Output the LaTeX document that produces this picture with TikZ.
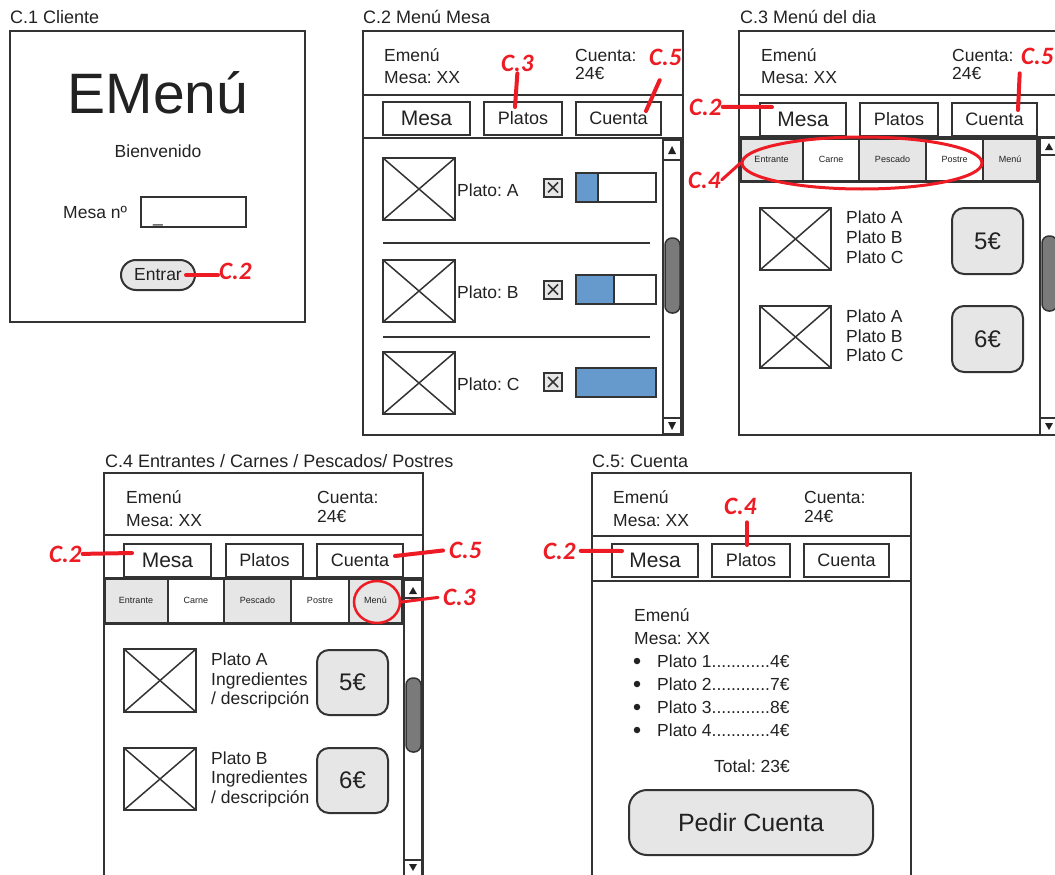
\documentclass[tikz,border=0pt]{standalone}
\usepackage{fontspec}
\setmainfont{Liberation Sans}
\newfontfamily\notefont{Carlito}
\frenchspacing
\usetikzlibrary{positioning,shapes.geometric}
\definecolor{ink}{RGB}{34,34,34}
\definecolor{edge}{RGB}{51,51,51}
\definecolor{btngray}{RGB}{230,230,230}
\definecolor{thumbgray}{RGB}{122,122,122}
\definecolor{barblue}{RGB}{102,153,204}
\definecolor{notered}{RGB}{237,28,36}
\tikzset{
  frame/.style={draw=edge, line width=2pt},
  title/.style={anchor=base west, inner sep=0pt, text=ink, font=\fontsize{18}{20}\selectfont},
  txt/.style={anchor=base west, inner sep=0pt, text=ink, font=\fontsize{17.5}{20}\selectfont},
  navbtn/.style={draw=edge, line width=2pt, fill=white, inner sep=0pt, minimum height=33pt, text=ink, font=\fontsize{18}{20}\selectfont},
  mesabtn/.style={navbtn, font=\fontsize{21}{24}\selectfont},
  imgbox/.style={draw=edge, line width=2pt, minimum width=72pt, minimum height=62pt, inner sep=0pt,
    path picture={\draw[edge, line width=1.5pt] (path picture bounding box.north west) -- (path picture bounding box.south east)
      (path picture bounding box.south west) -- (path picture bounding box.north east);}},
  chk/.style={draw=edge, line width=2pt, fill=btngray, minimum size=18pt, inner sep=0pt,
    path picture={\draw[edge, line width=1.5pt] ([shift={(4pt,4pt)}]path picture bounding box.south west) -- ([shift={(-4pt,-4pt)}]path picture bounding box.north east)
      ([shift={(4pt,-4pt)}]path picture bounding box.north west) -- ([shift={(-4pt,4pt)}]path picture bounding box.south east);}},
  bar/.style={draw=edge, line width=2pt, minimum width=80pt, minimum height=29pt, inner sep=0pt,
    path picture={\fill[barblue] (path picture bounding box.south west) rectangle ([xshift=#1]path picture bounding box.north west);
      \draw[edge, line width=2pt] ([xshift=#1]path picture bounding box.south west) -- ([xshift=#1]path picture bounding box.north west);}},
  tab/.style={draw=edge, line width=1.5pt, minimum height=43pt, inner sep=0pt, text=ink, font=\fontsize{9}{10}\selectfont},
  price/.style={draw=edge, line width=2pt, fill=btngray, rounded corners=12pt, minimum width=71pt, minimum height=66pt, text=ink, font=\fontsize{24}{26}\selectfont},
  thumb/.style={draw=edge, line width=1.5pt, fill=thumbgray, rounded corners=7pt},
  bullet/.style={circle, fill=ink, inner sep=0pt, minimum size=6.5pt},
  note/.style={anchor=base west, inner sep=1pt, text=notered, font=\notefont\bfseries\itshape\fontsize{25}{28}\selectfont},
  noteline/.style={draw=notered, line width=4pt, line cap=round},
  ring/.style={draw=notered, line width=3pt, ellipse, inner sep=0pt},
}
\begin{document}
\begin{tikzpicture}[x=1pt, y=-1pt]
\useasboundingbox (0,0) rectangle (1055,875);
\clip (0,0) rectangle (1055,875);

% C.1
\node[title] (t1) at (10,24) {C.1 Cliente};
\draw[frame] (10,31) rectangle (305,322);
\node[anchor=base, inner sep=0pt, text=ink, font=\fontsize{57}{60}\selectfont] (logo) at (158,113) {EMenú};
\node[txt, anchor=base] (hola) at (158,157) {Bienvenido};
\node[txt] (mesano) at (63,218) {Mesa nº};
\node[draw=edge, line width=2pt, minimum width=105pt, minimum height=30pt] (campo) at (193.5,212) {};
\node[txt] (cursor) at (153,222) {\_};
\node[draw=edge, line width=2pt, fill=btngray, rounded corners=15pt, minimum width=74pt, minimum height=30pt, inner sep=0pt, text=ink, font=\fontsize{17.5}{20}\selectfont] (entrar) at (158,275) {Entrar};
\node[note] (n12) at (218,279) {C.2};
\coordinate (a12) at (186,275);
\draw[noteline] (a12) -- (n12.west |- a12);

% C.2
\node[title] (t2) at (363,24) {C.2 Menú Mesa};
\draw[frame] (363,31) rectangle (683,435);
\draw[frame] (363,95) -- (683,95);
\draw[frame] (363,138) -- (683,138);
\node[txt] (e2) at (384,62) {Emenú};
\node[txt] (x2) at (384,84) {Mesa: XX};
\node[txt] (c2) at (575,62) {Cuenta:};
\node[txt] (p2) at (575,80) {24€};
\node[mesabtn, minimum width=87pt] (mesa2) at (426.5,118.5) {Mesa};
\node[navbtn, minimum width=78pt] (platos2) at (523,118.5) {Platos};
\node[navbtn, minimum width=85pt] (cuenta2) at (618.5,118.5) {Cuenta};
\node[imgbox] (img2a) at (419,189) {};
\node[imgbox] (img2b) at (419,291) {};
\node[imgbox] (img2c) at (419,383) {};
\node[txt] (pl2a) at (457,196) {Plato: A};
\node[txt] (pl2b) at (457,298) {Plato: B};
\node[txt] (pl2c) at (457,390) {Plato: C};
\node[chk] (chk2a) at (553,187.5) {};
\node[chk] (chk2b) at (553,289.5) {};
\node[chk] (chk2c) at (553,382) {};
\node[bar=22pt] (bar2a) at (616,187.5) {};
\node[bar=38pt] (bar2b) at (616,289.5) {};
\node[bar=80pt] (bar2c) at (616,382.5) {};
\draw[frame] (383,243) -- (650,243);
\draw[frame] (383,337) -- (650,337);
\draw[frame] (663,140) rectangle (681,434);
\draw[frame] (663,160) -- (681,160);
\draw[frame] (663,418) -- (681,418);
\fill[ink] (668,154) -- (676,154) -- (672,146) -- cycle;
\fill[ink] (668,422) -- (676,422) -- (672,430) -- cycle;
\draw[thumb] (665,238) rectangle (680,313);
\node[note] (n23) at (500,72) {C.3};
\node[note] (n25) at (648,66) {C.5};
\coordinate (a23) at (515,107);
\coordinate (a25) at (646,111);
\draw[noteline] (a23) -- (n23.south);
\draw[noteline, shorten >=14pt] (a25) -- (n25.south);

% C.3
\node[title] (t3) at (740,24) {C.3 Menú del dia};
\draw[frame] (739,31) rectangle (1059,435);
\draw[frame] (739,95) -- (1059,95);
\draw[frame] (739,137) -- (1059,137);
\node[txt] (e3) at (761,62) {Emenú};
\node[txt] (x3) at (761,84) {Mesa: XX};
\node[txt] (c3) at (952,62) {Cuenta:};
\node[txt] (p3) at (952,80) {24€};
\node[mesabtn, minimum width=86pt] (mesa3) at (803,119) {Mesa};
\node[navbtn, minimum width=78pt] (platos3) at (899,119) {Platos};
\node[navbtn, minimum width=85pt] (cuenta3) at (994.5,119) {Cuenta};
\node[tab, fill=btngray, minimum width=63pt] (ent3) at (771.5,159.5) {Entrante};
\node[tab, minimum width=56pt] (car3) at (831,159.5) {Carne};
\node[tab, fill=btngray, minimum width=67pt] (pes3) at (892.5,159.5) {Pescado};
\node[tab, minimum width=57pt] (pos3) at (954.5,159.5) {Postre};
\node[tab, fill=btngray, minimum width=54pt] (men3) at (1010,159.5) {Menú};
\draw[edge, line width=3pt] (740,138) rectangle (1037,181);
\node[imgbox, minimum width=71pt] (img3a) at (795.5,239) {};
\node[imgbox, minimum width=71pt] (img3b) at (795.5,337) {};
\node[txt] (d3a1) at (846,223) {Plato A};
\node[txt] (d3a2) at (846,243) {Plato B};
\node[txt] (d3a3) at (846,263) {Plato C};
\node[txt] (d3b1) at (846,322) {Plato A};
\node[txt] (d3b2) at (846,342) {Plato B};
\node[txt] (d3b3) at (846,361) {Plato C};
\node[price] (pr3a) at (987.5,241) {5€};
\node[price] (pr3b) at (987.5,339) {6€};
\draw[frame] (1040,138) rectangle (1058,435);
\draw[frame] (1040,155) -- (1058,155);
\draw[frame] (1040,418) -- (1058,418);
\fill[ink] (1045,150) -- (1053,150) -- (1049,143) -- cycle;
\fill[ink] (1045,423) -- (1053,423) -- (1049,430) -- cycle;
\draw[thumb] (1042,236) rectangle (1057,311);
\node[ring, minimum width=240pt, minimum height=52pt] (sel3) at (862,163) {};
\node[note] (n32) at (688,115) {C.2};
\node[note] (n34) at (687,188) {C.4};
\node[note] (n35) at (1020,65) {C.5};
\coordinate (a32) at (772,107);
\coordinate (a35) at (1018,110);
\draw[noteline] (n32.east) -- (a32);
\draw[noteline, line width=3pt] (n34.east) -- (sel3.west);
\draw[noteline, shorten <=7pt] (n35.south west) -- (a35);

% C.4
\node[title] (t4) at (105,467) {C.4 Entrantes / Carnes / Pescados/ Postres};
\draw[frame] (104,473) rectangle (423,890);
\draw[frame] (104,535) -- (423,535);
\draw[frame] (104,578) -- (423,578);
\node[txt] (e4) at (126,503) {Emenú};
\node[txt] (x4) at (126,526) {Mesa: XX};
\node[txt] (c4) at (317,503) {Cuenta:};
\node[txt] (p4) at (317,522) {24€};
\node[mesabtn, minimum width=87pt] (mesa4) at (167.5,560.5) {Mesa};
\node[navbtn, minimum width=77pt] (platos4) at (264.5,560.5) {Platos};
\node[navbtn, minimum width=86pt] (cuenta4) at (360,560.5) {Cuenta};
\node[tab, fill=btngray, minimum width=64pt, minimum height=45pt] (ent4) at (136,600.5) {Entrante};
\node[tab, minimum width=56pt, minimum height=45pt] (car4) at (196,600.5) {Carne};
\node[tab, fill=btngray, minimum width=67pt, minimum height=45pt] (pes4) at (257.5,600.5) {Pescado};
\node[tab, minimum width=58pt, minimum height=45pt] (pos4) at (320,600.5) {Postre};
\node[tab, fill=btngray, minimum width=53pt, minimum height=45pt] (men4) at (375.5,600.5) {Menú};
\draw[edge, line width=3pt] (104,578) rectangle (402,623);
\node[imgbox, minimum height=63pt] (img4a) at (160,680.5) {};
\node[imgbox] (img4b) at (160,779) {};
\node[txt] (d4a1) at (211,665.5) {Plato A};
\node[txt] (d4a2) at (211,685) {Ingredientes};
\node[txt] (d4a3) at (211,704.5) {/ descripción};
\node[txt] (d4b1) at (211,764) {Plato B};
\node[txt] (d4b2) at (211,783.5) {Ingredientes};
\node[txt] (d4b3) at (211,803) {/ descripción};
\node[price, minimum height=65pt] (pr4a) at (352.5,682.5) {5€};
\node[price, minimum height=65pt] (pr4b) at (352.5,780.5) {6€};
\draw[frame] (404,580) rectangle (422,890);
\draw[frame] (404,598) -- (422,598);
\draw[frame] (404,860) -- (422,860);
\fill[ink] (409,594) -- (417,594) -- (413,587) -- cycle;
\fill[ink] (409,864) -- (417,864) -- (413,871) -- cycle;
\draw[thumb] (406,678) rectangle (421,752);
\node[ring, line width=2.5pt, minimum width=46pt, minimum height=42pt] (sel4) at (377,602) {};
\node[note] (n42) at (48,562) {C.2};
\node[note] (n45) at (448,558) {C.5};
\node[note] (n43) at (442,605) {C.3};
\coordinate (a42) at (132,553);
\coordinate (a45) at (395,556);
\draw[noteline] (n42.east) -- (a42);
\draw[noteline, shorten >=5pt] (a45) -- (n45.west);
\draw[noteline, line width=3pt, shorten >=4pt] (sel4.east) -- (n43.west);

% C.5
\node[title] (t5) at (592,467) {C.5: Cuenta};
\draw[frame] (592,473) rectangle (911,890);
\draw[frame] (592,536) -- (911,536);
\draw[frame] (592,581) -- (911,581);
\node[txt] (e5) at (613,503) {Emenú};
\node[txt] (x5) at (613,526) {Mesa: XX};
\node[txt] (c5) at (804,503) {Cuenta:};
\node[txt] (p5) at (804,522) {24€};
\node[mesabtn, minimum width=86pt] (mesa5) at (655,560.5) {Mesa};
\node[navbtn, minimum width=78pt] (platos5) at (751,560.5) {Platos};
\node[navbtn, minimum width=85pt] (cuenta5) at (846.5,560.5) {Cuenta};
\node[txt] (e5b) at (634,621) {Emenú};
\node[txt] (x5b) at (634,644) {Mesa: XX};
\node[bullet] (b51) at (637,661) {};
\node[bullet] (b52) at (637,684) {};
\node[bullet] (b53) at (637,707) {};
\node[bullet] (b54) at (637,730) {};
\node[txt] (l51) at (657,667) {Plato 1............4€};
\node[txt] (l52) at (657,690) {Plato 2............7€};
\node[txt] (l53) at (657,713) {Plato 3............8€};
\node[txt] (l54) at (657,736) {Plato 4............4€};
\node[txt, anchor=base] (tot5) at (752,772) {Total: 23€};
\node[draw=edge, line width=2pt, fill=btngray, rounded corners=18pt, minimum width=244pt, minimum height=65pt, text=ink, font=\fontsize{25}{28}\selectfont] (pedir) at (751,822.5) {Pedir Cuenta};
\node[note] (n54) at (723,514) {C.4};
\node[note] (n52) at (542,559) {C.2};
\coordinate (a54) at (747,545);
\coordinate (a52) at (622,551);
\draw[noteline, shorten >=7pt] (a54) -- (n54.south -| a54);
\draw[noteline, shorten <=4pt] (n52.east) -- (a52);
\end{tikzpicture}
\end{document}
